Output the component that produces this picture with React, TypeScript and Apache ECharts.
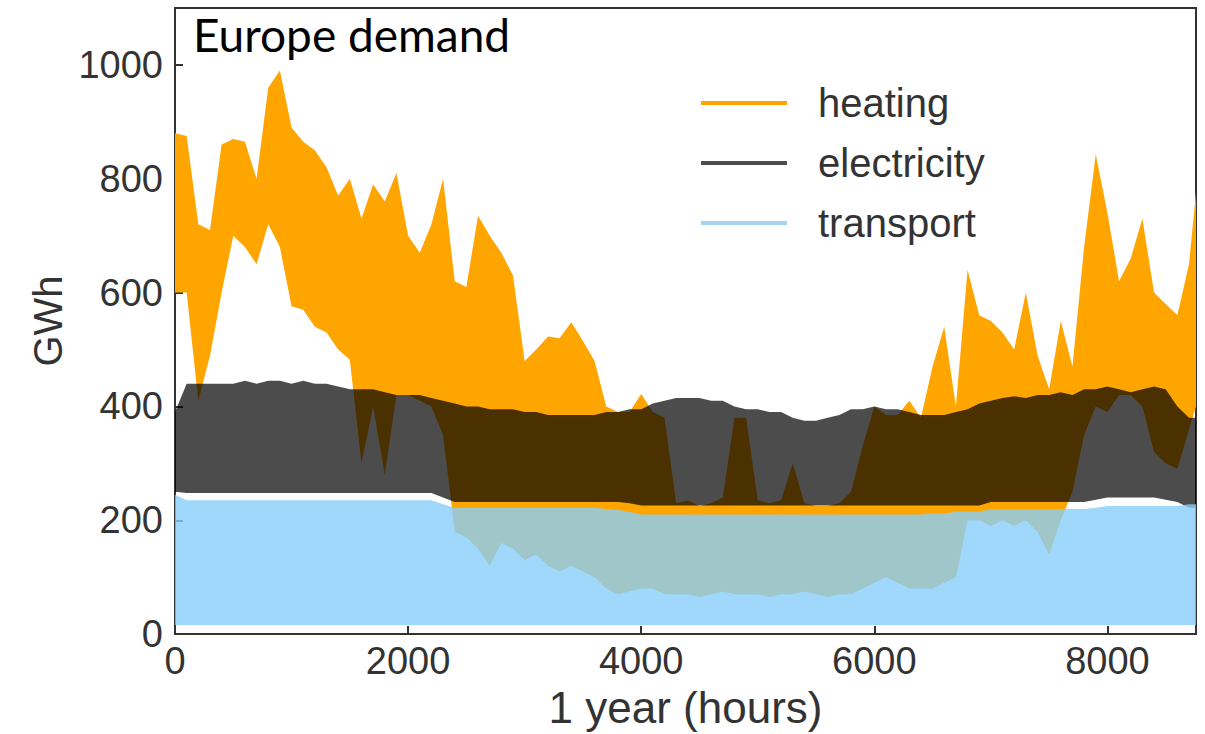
import React, { useEffect, useRef } from "react";
import * as echarts from "echarts";

// Sample hours (every 100 h, plus the last hour of the year)
const HOURS: number[] = [];
for (let h = 0; h <= 8700; h += 100) HOURS.push(h);
HOURS.push(8760);

const SERIES_NAMES = ["heating", "electricity", "transport"];

// Upper / lower envelopes of the hourly traces (GWh)
const heatingHigh = [
  880, 875, 720, 710, 860, 870, 865, 800, 960, 990,
  890, 865, 850, 820, 770, 800, 730, 790, 760, 810,
  700, 670, 720, 800, 620, 610, 735, 700, 670, 630,
  480, 500, 523, 520, 548, 515, 480, 400, 390, 390,
  422, 390, 380, 230, 235, 225, 230, 240, 380, 380,
  235, 230, 235, 300, 230, 225, 225, 230, 250, 330,
  400, 385, 385, 410, 380, 470, 540, 400, 640, 560,
  550, 530, 500, 600, 490, 430, 550, 470, 680, 843,
  740, 620, 660, 730, 600, 580, 560, 650,
  776,
];
const heatingLow = [
  600, 600, 410, 489, 600, 700, 680, 650, 720, 680,
  576, 570, 540, 530, 500, 482, 300, 400, 280, 420,
  420, 410, 400, 350, 180, 170, 150, 120, 160, 150,
  130, 140, 120, 110, 120, 110, 100, 80, 70, 75,
  80, 80, 70, 70, 70, 65, 70, 75, 70, 70,
  70, 65, 70, 70, 75, 70, 65, 70, 70, 80,
  90, 100, 90, 80, 80, 80, 90, 100, 200, 200,
  190, 200, 190, 200, 180, 140, 200, 250, 350, 400,
  390, 420, 420, 400, 320, 300, 290, 360,
  400,
];
const electricityHigh = [
  390, 440, 440, 440, 440, 440, 445, 440, 445, 445,
  440, 445, 440, 440, 435, 430, 430, 430, 425, 420,
  420, 420, 415, 410, 405, 400, 400, 395, 395, 395,
  390, 390, 385, 385, 385, 385, 385, 390, 390, 395,
  395, 405, 410, 415, 415, 415, 410, 410, 400, 395,
  395, 390, 390, 380, 375, 375, 380, 385, 395, 395,
  400, 395, 395, 390, 385, 385, 385, 390, 395, 405,
  410, 415, 418, 415, 420, 420, 425, 420, 430, 430,
  435, 430, 425, 430, 435, 430, 400, 380,
  380,
];
const electricityLow = [
  250, 248, 248, 248, 248, 248, 248, 248, 248, 248,
  248, 248, 248, 248, 248, 248, 248, 248, 248, 248,
  248, 248, 248, 240, 232, 232, 232, 232, 232, 232,
  232, 232, 232, 232, 232, 232, 232, 232, 232, 230,
  226, 226, 226, 226, 226, 226, 226, 226, 226, 226,
  226, 226, 226, 226, 226, 226, 226, 226, 226, 226,
  226, 226, 226, 226, 226, 226, 226, 226, 226, 226,
  232, 232, 232, 232, 232, 232, 232, 232, 232, 236,
  240, 240, 240, 240, 240, 236, 232, 222,
  222,
];
const transportHigh = [
  245, 235, 235, 235, 235, 235, 235, 235, 235, 235,
  235, 235, 235, 235, 235, 235, 235, 235, 235, 235,
  235, 235, 235, 228, 222, 222, 222, 222, 222, 222,
  222, 222, 222, 222, 222, 222, 222, 220, 218, 215,
  210, 210, 210, 210, 210, 210, 210, 210, 210, 210,
  210, 210, 210, 210, 210, 210, 210, 210, 210, 210,
  210, 210, 210, 210, 210, 212, 212, 215, 215, 215,
  220, 220, 220, 220, 220, 220, 220, 220, 220, 222,
  225, 225, 225, 225, 225, 225, 225, 228,
  228,
];
const transportLow = [
  16, 16, 16, 16, 16, 16, 16, 16, 16, 16,
  16, 16, 16, 16, 16, 16, 16, 16, 16, 16,
  16, 16, 16, 16, 16, 16, 16, 16, 16, 16,
  16, 16, 16, 16, 16, 16, 16, 16, 16, 16,
  16, 16, 16, 16, 16, 16, 16, 16, 16, 16,
  16, 16, 16, 16, 16, 16, 16, 16, 16, 16,
  16, 16, 16, 16, 16, 16, 16, 16, 16, 16,
  16, 16, 16, 16, 16, 16, 16, 16, 16, 16,
  16, 16, 16, 16, 16, 16, 16, 16,
  16,
];

const FILLS = ["rgb(255,165,0)", "rgba(0,0,0,0.7)", "rgba(135,206,250,0.8)"];
const LEGEND_COLORS = ["#ffa500", "#4d4d4d", "#a3d5f3"];

function band(name: string, lo: number[], hi: number[], fill: string, legendColor: string) {
  return {
    type: "custom",
    name,
    silent: true,
    itemStyle: { color: legendColor },
    data: HOURS.map((h, i) => [h, lo[i], hi[i]]),
    encode: { x: 0, y: [1, 2] },
    renderItem: (params: any, api: any) => {
      if (params.dataIndex !== 0) return null;
      const upper = HOURS.map((h, i) => api.coord([h, hi[i]]));
      const lower = HOURS.map((h, i) => api.coord([h, lo[i]])).reverse();
      return {
        type: "polygon",
        shape: { points: upper.concat(lower) },
        style: { fill, stroke: null },
      };
    },
  };
}

export default function App() {
  const ref = useRef<HTMLDivElement>(null);
  useEffect(() => {
    if (!ref.current) return;
    const chart = echarts.init(ref.current, null, { renderer: "svg" });
    const axisFont = "'Liberation Sans', Arial, sans-serif";
    chart.setOption({
      animation: false,
      backgroundColor: "#ffffff",
      title: {
        text: "Europe demand",
        left: 188,
        top: 6,
        textStyle: { fontSize: 46, fontWeight: "normal", color: "#000", fontFamily: "Lato" },
      },
      legend: {
        orient: "vertical",
        left: 696,
        top: 78,
        itemWidth: 86,
        itemHeight: 4,
        itemGap: 20,
        icon: "rect",
        selectedMode: false,
        data: SERIES_NAMES.map((n, i) => ({ name: n, itemStyle: { color: LEGEND_COLORS[i] } })),
        textStyle: { fontSize: 40, color: "#333", fontFamily: axisFont, padding: [0, 0, 0, 26], lineHeight: 40 },
      },
      grid: { left: 175, right: 9, top: 8, bottom: 99, show: true, borderColor: "#333", borderWidth: 2, backgroundColor: "transparent" },
      xAxis: {
        type: "value",
        min: 0,
        max: 8760,
        interval: 2000,
        name: "1 year (hours)",
        nameLocation: "middle",
        nameGap: 48,
        nameTextStyle: { fontSize: 44, color: "#333", fontFamily: axisFont },
        axisLine: { show: true, onZero: false, lineStyle: { color: "#333", width: 2 } },
        axisTick: { show: true, inside: true, length: 8, lineStyle: { color: "#333", width: 2 } },
        axisLabel: { fontSize: 38, color: "#333", fontFamily: axisFont, margin: 8, showMaxLabel: false, formatter: (v: number) => String(v) },
        splitLine: { show: false },
      },
      yAxis: {
        type: "value",
        min: 0,
        max: 1100,
        interval: 200,
        name: "GWh",
        nameLocation: "middle",
        nameGap: 101,
        nameTextStyle: { fontSize: 40, color: "#333", fontFamily: axisFont },
        axisLine: { show: true, lineStyle: { color: "#333", width: 2 } },
        axisTick: { show: true, inside: true, length: 8, lineStyle: { color: "#333", width: 2 } },
        axisLabel: { fontSize: 38, color: "#333", fontFamily: axisFont, margin: 12, showMaxLabel: false, formatter: (v: number) => String(v) },
        splitLine: { show: false },
      },
      series: [
        band(SERIES_NAMES[0], heatingLow, heatingHigh, FILLS[0], LEGEND_COLORS[0]),
        band(SERIES_NAMES[1], electricityLow, electricityHigh, FILLS[1], LEGEND_COLORS[1]),
        band(SERIES_NAMES[2], transportLow, transportHigh, FILLS[2], LEGEND_COLORS[2]),
      ],
    });
    return () => chart.dispose();
  }, []);
  return <div ref={ref} style={{ position: "fixed", left: 0, top: 0, width: 1205, height: 734 }} />;
}
